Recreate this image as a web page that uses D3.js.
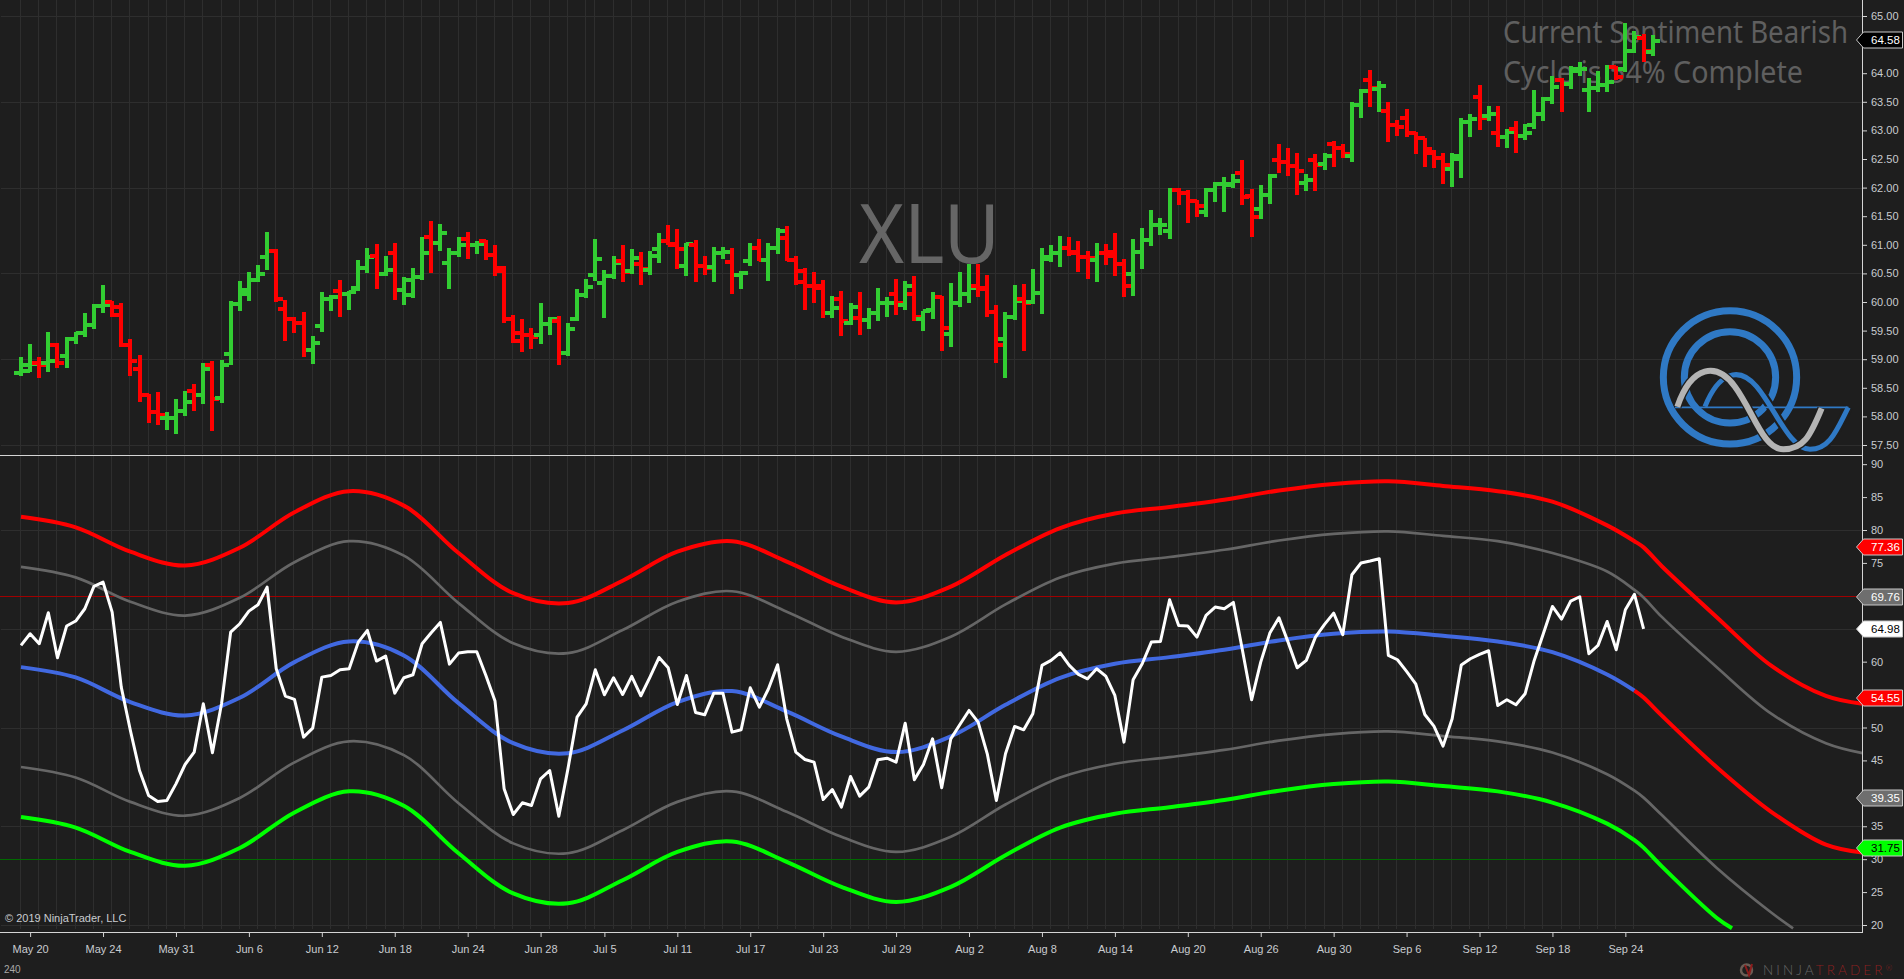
<!DOCTYPE html>
<html><head><meta charset="utf-8">
<script src="https://cdnjs.cloudflare.com/ajax/libs/d3/7.8.5/d3.min.js"></script>
<style>
html,body{margin:0;padding:0;background:#1e1e1e;overflow:hidden}
svg{display:block}
text{font-family:"Liberation Sans",Arial,sans-serif}
.axis text{fill:#c9ccd0;font-size:11px;font-family:"Liberation Sans",Arial,sans-serif}
.axis line{stroke:#d4d4d4}
.axis path{display:none}
</style></head><body>
<svg id="chart" width="1904" height="979"></svg>
<script>
const opens=[58.76,58.80,58.93,58.94,59.25,59.05,59.36,59.45,59.60,59.93,60.00,59.77,59.24,58.83,58.38,58.07,57.98,57.98,58.10,58.44,58.37,58.89,58.32,59.09,59.96,60.21,60.38,60.79,60.89,59.88,59.70,59.64,59.16,59.58,60.05,60.20,60.14,60.24,60.60,60.80,60.49,60.86,60.21,60.12,60.44,61.14,61.04,60.69,60.85,61.10,61.00,61.07,60.82,60.55,59.70,59.46,59.42,59.42,59.61,59.67,59.10,59.70,60.12,60.47,60.34,60.45,60.72,60.54,60.67,60.56,60.93,61.07,61.02,60.63,61.00,60.63,60.62,60.85,60.70,60.47,60.72,60.94,60.74,60.95,61.12,60.73,60.35,60.28,60.28,59.80,60.05,59.64,59.72,59.68,59.81,59.98,60.14,59.95,60.14,59.71,59.86,60.08,59.44,59.98,60.14,60.28,60.23,59.83,59.35,59.73,60.05,60.00,60.15,60.76,60.86,60.95,60.87,60.79,60.73,60.86,60.88,60.66,60.49,60.87,61.09,61.34,61.24,61.95,61.90,61.76,61.57,61.95,62.06,62.04,62.26,61.85,61.62,61.87,62.48,62.45,62.37,62.08,62.48,62.41,62.76,62.69,62.55,63.44,63.88,63.72,63.34,63.09,63.22,62.96,62.86,62.61,62.52,62.32,62.50,63.14,63.58,63.25,62.96,62.89,63.03,62.91,63.09,63.28,63.55,63.88,63.81,64.03,63.70,63.74,63.80,64.10,64.07,64.39,64.61,64.37];
const highs=[59.03,59.26,59.03,59.47,59.28,59.38,59.48,59.80,59.96,60.29,60.02,59.99,59.35,59.07,58.40,58.42,58.07,58.31,58.44,58.56,58.93,58.96,58.98,60.01,60.36,60.52,60.64,61.22,60.92,60.03,59.73,59.82,59.40,60.17,60.12,60.38,60.20,60.73,60.95,61.02,60.81,61.04,60.43,60.59,61.13,61.41,61.37,60.94,61.13,61.22,61.06,61.09,60.99,60.63,59.78,59.71,59.54,59.99,59.73,59.75,59.63,60.22,60.41,61.11,60.56,60.80,60.99,60.92,60.87,60.90,61.20,61.34,61.27,61.04,61.09,60.80,60.97,60.96,60.94,60.55,61.04,61.11,61.04,61.30,61.32,60.81,60.60,60.52,60.38,60.10,60.20,59.98,60.17,59.89,60.24,60.09,60.41,60.36,60.45,59.84,60.17,60.10,60.34,60.52,60.67,60.66,60.47,59.94,59.82,60.29,60.31,60.57,60.95,60.99,61.16,61.13,61.06,60.90,61.04,61.01,61.20,60.76,61.11,61.30,61.60,61.46,62.00,62.00,61.95,61.79,62.00,62.10,62.19,62.24,62.49,61.98,62.05,62.23,62.77,62.70,62.61,62.24,62.58,62.61,62.82,62.77,63.49,63.73,64.06,63.87,63.50,63.18,63.38,62.97,62.87,62.65,62.61,62.61,63.22,63.28,63.80,63.42,63.42,63.02,63.16,63.11,63.70,63.58,63.95,63.91,64.12,64.19,63.91,64.03,64.15,64.12,64.88,64.74,64.68,64.67];
const lows=[58.71,58.78,58.68,58.78,58.85,58.85,59.27,59.38,59.53,59.81,59.73,59.22,58.71,58.26,57.89,57.85,57.77,57.70,58.01,58.10,58.22,57.75,58.24,58.89,59.85,60.02,60.35,60.56,60.00,59.32,59.46,59.04,58.92,59.48,59.85,59.74,59.86,60.20,60.51,60.23,60.46,60.04,59.95,60.07,60.39,60.51,60.90,60.23,60.79,60.76,60.84,60.74,60.46,59.63,59.28,59.13,59.18,59.27,59.43,58.90,59.06,59.66,60.07,60.37,59.72,60.41,60.35,60.49,60.30,60.48,60.69,60.99,60.58,60.46,60.35,60.48,60.35,60.76,60.14,60.23,60.63,60.71,60.37,60.84,60.71,60.30,59.86,59.99,59.72,59.72,59.41,59.59,59.43,59.53,59.66,59.74,59.78,59.86,59.66,59.50,59.70,59.15,59.22,59.92,59.99,60.08,59.74,58.94,58.67,59.68,59.15,59.96,59.79,60.70,60.61,60.80,60.53,60.40,60.35,60.65,60.45,60.09,60.10,60.58,60.98,61.17,61.11,61.69,61.38,61.49,61.49,61.75,61.57,61.99,61.70,61.14,61.45,61.71,62.26,62.20,61.87,61.94,61.94,62.31,62.36,62.52,62.45,63.22,63.41,63.32,62.80,62.90,62.89,62.59,62.36,62.34,62.06,62.01,62.17,62.89,63.01,63.17,62.71,62.70,62.60,62.84,63.03,63.16,63.46,63.33,63.73,63.95,63.33,63.68,63.68,63.88,64.02,64.35,64.20,64.30];
const closes=[58.90,58.91,58.89,58.96,58.93,59.36,59.45,59.60,59.93,59.94,59.91,59.25,58.97,58.38,58.07,58.02,57.98,58.10,58.26,58.37,58.83,58.31,58.89,59.96,60.14,60.38,60.49,60.90,60.05,59.70,59.64,59.16,59.29,60.05,60.08,60.14,60.18,60.60,60.79,60.49,60.56,60.21,60.38,60.44,60.86,61.04,61.21,60.85,61.00,61.00,61.02,60.82,60.59,59.70,59.32,59.42,59.38,59.61,59.70,59.10,59.53,60.12,60.26,60.75,60.46,60.69,60.53,60.77,60.57,60.80,61.07,60.99,60.92,61.02,60.63,60.59,60.85,60.88,60.47,60.50,60.94,60.74,60.95,61.24,60.73,60.55,60.28,60.25,59.80,59.89,59.66,59.92,59.68,59.81,59.98,59.99,59.98,60.28,59.74,59.85,60.09,59.54,59.98,60.14,60.24,60.24,59.83,59.24,59.73,60.02,59.99,60.15,60.79,60.86,60.95,60.86,60.79,60.77,60.85,60.81,60.67,60.28,60.87,61.09,61.34,61.35,61.95,61.90,61.76,61.68,61.95,62.06,62.07,62.12,61.84,61.49,61.87,62.20,62.45,62.37,62.29,62.13,62.39,62.55,62.69,62.58,63.44,63.69,63.74,63.77,63.09,63.06,62.96,62.86,62.67,62.52,62.39,62.56,63.14,63.20,63.22,63.29,62.89,62.98,62.91,62.96,63.28,63.55,63.76,63.81,64.07,64.08,63.74,63.80,63.85,63.93,64.39,64.64,64.38,64.57];

const whiteLine=[62.47,64.24,62.72,67.43,60.59,65.41,66.17,68.04,71.43,72.09,67.53,56.13,49.55,43.47,39.67,38.76,38.91,41.44,44.38,46.26,53.60,46.16,53.60,64.49,65.76,67.68,68.65,71.33,58.92,54.77,54.26,48.54,49.90,57.65,57.91,58.77,58.92,62.97,64.75,60.09,60.85,55.22,57.55,58.01,62.72,64.39,65.96,59.63,61.30,61.50,61.50,57.91,54.01,40.68,36.78,38.56,38.15,42.20,43.47,36.53,43.72,51.58,53.60,58.77,54.97,57.55,55.02,57.76,54.82,57.65,60.64,59.07,53.50,57.91,52.28,51.93,55.22,55.22,49.30,49.65,56.03,53.10,55.88,59.53,51.32,46.26,45.14,44.74,39.06,40.58,37.90,42.56,39.57,40.94,45.09,45.34,44.74,50.66,42.05,44.38,48.28,40.84,48.28,50.46,52.59,50.82,46.00,38.91,46.00,50.16,49.65,52.08,59.43,60.19,61.35,59.43,58.06,57.40,58.92,57.81,54.87,47.78,57.25,59.68,62.97,63.07,69.41,65.51,65.41,63.73,67.03,68.29,68.04,69.00,61.71,54.21,59.93,64.34,66.67,62.97,59.07,60.19,63.73,65.66,67.38,64.09,73.21,74.98,75.28,75.64,60.95,60.29,58.52,56.64,51.98,50.21,47.17,51.32,59.48,60.44,61.10,61.66,53.35,54.21,53.45,55.12,60.19,64.24,68.39,66.47,69.20,69.86,61.20,62.47,66.11,61.81,67.89,70.22,64.98];

const bandBars=[0,6,12,18,24,30,36,42,48,54,60,66,72,78,84,90,96,102,108,114,120,126,132,138,144,150,156,162,168,174,177,178,180,186,192,198,202];
const lowerGrayBars=[...bandBars.slice(0,35),194.4];
const lowerGreenBars=[...bandBars.slice(0,34),187.7];
const upperOuter=[82.0,80.4,76.7,74.6,77.3,82.7,85.9,83.7,76.5,70.4,68.9,72.3,76.7,78.3,75.2,71.4,69.0,71.4,76.2,80.3,82.5,83.5,84.6,86.0,87.0,87.4,86.7,85.9,84.3,80.7,78.3,77.36,74.5,66.8,59.4,54.8,53.6];
const upperInner=[74.4,72.8,69.1,67.0,69.7,75.1,78.3,76.1,68.9,62.8,61.3,64.8,69.1,70.7,67.6,63.8,61.5,63.8,68.7,72.8,74.9,75.9,77.0,78.4,79.4,79.8,79.1,78.3,76.5,73.7,70.9,69.76,66.8,59.2,52.1,47.6,46.1];
const midBand=[59.17,57.60,53.86,51.83,54.51,59.93,63.07,60.95,53.70,47.62,46.10,49.55,53.86,55.53,52.44,48.64,46.26,48.64,53.45,57.55,59.68,60.69,61.81,63.23,64.24,64.59,63.94,63.07,61.45,58.06,55.60,54.55,51.8,44.0,37.2,32.2,31.0];
const lowerInner=[44.0,42.4,38.7,36.6,39.3,44.7,47.9,45.8,38.5,32.4,30.9,34.4,38.7,40.3,37.2,33.4,31.1,33.4,38.3,42.4,44.5,45.5,46.6,48.0,49.0,49.4,48.7,47.9,46.2,42.9,40.4,39.35,36.7,28.7,21.9,19.5];
const lowerOuter=[36.4,34.8,31.1,29.0,31.7,37.1,40.3,38.1,30.9,24.8,23.3,26.8,31.1,32.7,29.6,25.8,23.5,25.8,30.6,34.8,36.9,37.9,39.0,40.4,41.4,41.8,41.1,40.3,38.6,35.4,32.9,31.75,28.9,21.1,19.5];
const midTurnBar=177;

const dateLabels=["May 20","May 24","May 31","Jun 6","Jun 12","Jun 18","Jun 24","Jun 28","Jul 5","Jul 11","Jul 17","Jul 23","Jul 29","Aug 2","Aug 8","Aug 14","Aug 20","Aug 26","Aug 30","Sep 6","Sep 12","Sep 18","Sep 24"];
const dateBars=[1,9,17,25,33,41,49,57,64,72,80,88,96,104,112,120,128,136,144,152,160,168,176];
const priceTicks=[57.5,58,58.5,59,59.5,60,60.5,61,61.5,62,62.5,63,63.5,64,65];
const oscTicks=[20,25,30,35,45,50,60,75,80,85,90];
const priceGrid=[57.5,59,60.5,62,63.5,65];
const oscGrid=[20,35,50,65,80];
const oscFlags=[77.36,69.76,64.98,54.55,39.35,31.75];
const oscFlagFill=["#ff0000","#6e6e6e","#ffffff","#ff0000","#6e6e6e","#00ff00"];
const oscFlagText=["#fff","#fff","#000","#fff","#fff","#000"];
const lastPrice=64.58;

const svg=d3.select("#chart");
const x=d3.scaleLinear().domain([0,179]).range([21,1652.7]);
const yP=d3.scaleLinear().domain([57.5,65]).range([445,16]);
const yO=d3.scaleLinear().domain([20,80]).range([925,530]);
const axisX=1863, bottom=932;

// grid
const gridBars=d3.range(0,63,2).concat(d3.range(63,178,2));
const grid=svg.append("g").attr("stroke","#2e2e2e").attr("stroke-width",1).attr("shape-rendering","crispEdges");
grid.selectAll(".vt").data(gridBars).join("line").attr("x1",d=>Math.round(x(d))-.5).attr("x2",d=>Math.round(x(d))-.5).attr("y1",0).attr("y2",454);
grid.selectAll(".vb").data(gridBars).join("line").attr("x1",d=>Math.round(x(d))-.5).attr("x2",d=>Math.round(x(d))-.5).attr("y1",456).attr("y2",929);
grid.selectAll(".hp").data(priceGrid).join("line").attr("x1",1).attr("x2",axisX).attr("y1",d=>Math.round(yP(d))+.5).attr("y2",d=>Math.round(yP(d))+.5);
grid.selectAll(".ho").data(oscGrid).join("line").attr("x1",1).attr("x2",axisX).attr("y1",d=>Math.round(yO(d))+.5).attr("y2",d=>Math.round(yO(d))+.5);

// watermarks (under the marks)
svg.append("text").text("XLU").attr("x",859).attr("y",263).attr("fill","#666").style("font-family","'Noto Sans'").style("font-size","83px").attr("textLength",141).attr("lengthAdjust","spacingAndGlyphs");
svg.append("text").text("Current Sentiment Bearish").attr("x",1503).attr("y",42.5).attr("fill","#5f5f5f").style("font-family","'Noto Sans'").style("font-size","30px").attr("textLength",345).attr("lengthAdjust","spacingAndGlyphs");
svg.append("text").text("Cycle is 54% Complete").attr("x",1503).attr("y",82.5).attr("fill","#5f5f5f").style("font-family","'Noto Sans'").style("font-size","30px").attr("textLength",300).attr("lengthAdjust","spacingAndGlyphs");

// OHLC bars
const bars=svg.append("g").attr("shape-rendering","crispEdges");
opens.forEach((o,i)=>{
  const col=closes[i]>=o?"#32cd32":"#ff0000", cx=x(i);
  const g=bars.append("g").attr("fill",col);
  g.append("rect").attr("x",cx-2).attr("width",4).attr("y",yP(highs[i])).attr("height",yP(lows[i])-yP(highs[i]));
  g.append("rect").attr("x",cx-7).attr("width",7).attr("y",yP(o)-2).attr("height",4);
  g.append("rect").attr("x",cx).attr("width",7).attr("y",yP(closes[i])-2).attr("height",4);
});

// reference levels
svg.append("line").attr("x1",0).attr("x2",axisX).attr("y1",Math.round(yO(70))+.5).attr("y2",Math.round(yO(70))+.5).attr("stroke","#a00000").attr("shape-rendering","crispEdges");
svg.append("line").attr("x1",0).attr("x2",axisX).attr("y1",Math.round(yO(30))+.5).attr("y2",Math.round(yO(30))+.5).attr("stroke","#006a00").attr("shape-rendering","crispEdges");

// bands
const band=d3.line().x(d=>x(d[0])).y(d=>yO(d[1])).curve(d3.curveCatmullRom.alpha(.5));
const draw=(bars_,vals,col,w)=>svg.append("path").attr("d",band(bars_.map((b,i)=>[b,vals[i]]))).attr("fill","none").attr("stroke",col).attr("stroke-width",w).attr("stroke-linejoin","round");
draw(bandBars,upperOuter,"#ff0000",4);
draw(bandBars,upperInner,"#666666",2.7);
draw(lowerGrayBars,lowerInner,"#666666",2.7);
draw(lowerGreenBars,lowerOuter,"#00ff00",4);
const turn=bandBars.indexOf(midTurnBar);
draw(bandBars.slice(0,turn+1),midBand.slice(0,turn+1),"#4169e1",4);
draw(bandBars.slice(turn),midBand.slice(turn),"#ff0000",4);

// oscillator line
svg.append("path").attr("d",d3.line().x((d,i)=>x(i)).y(d=>yO(d))(whiteLine)).attr("fill","none").attr("stroke","#fff").attr("stroke-width",3).attr("stroke-linejoin","round");

// axes frame
svg.append("g").attr("stroke","#d4d4d4").attr("shape-rendering","crispEdges").call(g=>{
  g.append("line").attr("x1",0).attr("x2",axisX).attr("y1",455.5).attr("y2",455.5);
  g.append("line").attr("x1",0).attr("x2",axisX).attr("y1",bottom+.5).attr("y2",bottom+.5);
  g.append("line").attr("x1",axisX-.5).attr("x2",axisX-.5).attr("y1",0).attr("y2",bottom);
});
svg.append("g").attr("class","axis").attr("transform",`translate(${axisX},0)`).call(d3.axisRight(yP).tickValues(priceTicks).tickFormat(d3.format(".2f")).tickSize(4).tickPadding(4));
svg.append("g").attr("class","axis").attr("transform",`translate(${axisX},0)`).call(d3.axisRight(yO).tickValues(oscTicks).tickFormat(d3.format("d")).tickSize(4).tickPadding(4));
svg.append("g").attr("class","axis").attr("transform",`translate(0,${bottom})`).call(d3.axisBottom(x).tickValues(dateBars).tickFormat((d,i)=>dateLabels[i]).tickSize(5).tickPadding(8));

// value flags
function flag(y,fill,txtCol,val){
  const c=Math.round(y);
  svg.append("path").attr("d",`M1856.5,${c}L1863.5,${c-8}H1902.5V${c+8}H1863.5Z`).attr("fill",fill).attr("stroke","#c8c8c8").attr("stroke-width",1);
  svg.append("text").text(val.toFixed(2)).attr("x",1871).attr("y",c+4).attr("fill",txtCol).style("font-size","11.5px");
}
flag(yP(lastPrice),"#000","#fff",lastPrice);
oscFlags.forEach((v,i)=>flag(yO(v),oscFlagFill[i],oscFlagText[i],v));

// captions
svg.append("text").text("© 2019 NinjaTrader, LLC").attr("x",5).attr("y",922).attr("fill","#c9ccd0").style("font-size","11px");
svg.append("text").text("240").attr("x",4).attr("y",973).attr("fill","#a8a8a8").style("font-size","10px");

// Q logo
const logo=svg.append("g").attr("transform","translate(1620,290) scale(.3333)").attr("fill","none");
logo.append("circle").attr("cx",330).attr("cy",262).attr("r",200).attr("stroke","#2f79c5").attr("stroke-width",21);
logo.append("circle").attr("cx",330).attr("cy",262).attr("r",137).attr("stroke","#2f79c5").attr("stroke-width",21);
const blueWave="M255,350C295,250 355,225 410,290S510,478 570,478S650,420 685,352";
const grayWave="M172,350C215,225 290,215 345,290S430,478 490,478S570,440 605,355";
logo.append("path").attr("d",blueWave).attr("stroke","#1e1e1e").attr("stroke-width",28);
logo.append("path").attr("d",blueWave).attr("stroke","#2f79c5").attr("stroke-width",15);
logo.append("path").attr("d","M165,352H685").attr("stroke","#2f79c5").attr("stroke-width",5);
logo.append("path").attr("d",grayWave).attr("stroke","#1e1e1e").attr("stroke-width",26);
logo.append("path").attr("d",grayWave).attr("stroke","#b4b4b4").attr("stroke-width",18);

// NinjaTrader mark
const nt=svg.append("g");
nt.append("circle").attr("cx",1746.5).attr("cy",970).attr("r",5.5).attr("fill","none").attr("stroke","#6b5d55").attr("stroke-width",2.5);
nt.append("path").attr("d","M1745,965L1749,975L1752,964").attr("fill","none").attr("stroke","#8c1c1c").attr("stroke-width",2);
const wm=nt.append("text").attr("x",1763).attr("y",975).style("font-family","Lato").style("font-size","13.5px").style("letter-spacing","3.1px").style("font-weight","300");
wm.append("tspan").text("NINJA").attr("fill","#666");
wm.append("tspan").text("TRADER").attr("fill","#8a2020");
wm.append("tspan").text("®").attr("fill","#8a2020").style("font-size","8px").attr("dy",-4).style("letter-spacing","0");
</script>
</body></html>
